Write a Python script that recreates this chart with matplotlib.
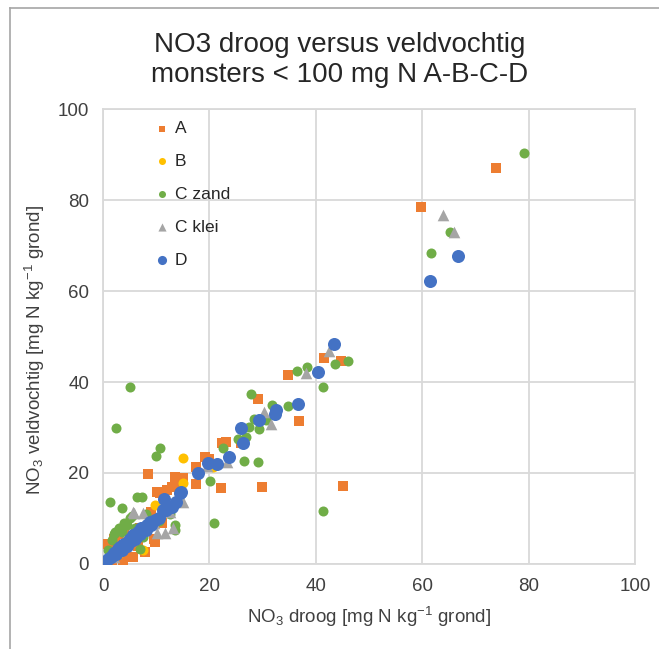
import matplotlib
matplotlib.use('Agg')
import matplotlib.pyplot as plt
from matplotlib.lines import Line2D

plt.rcParams['font.family'] = ['Liberation Sans', 'DejaVu Sans']
plt.rcParams['mathtext.default'] = 'regular'

# series A (orange squares)
a_x = [0.5, 1.6, 1.3, 0.7, 3.8, 5.7, 4.8, 7.9, 9.8, 9.5, 11.0, 10.1, 12.0, 13.8, 8.5,
       13.5, 15.0, 12.9, 10.7, 17.4, 19.2, 20.0, 17.4, 22.2, 29.8, 45.2, 22.4, 23.2,
       26.0, 29.1, 36.8, 34.7, 41.6, 44.7, 59.7, 73.8, 2.5, 3.0, 6.5, 7.0, 9.0, 11.5,
       4.0, 2.0, 2.3]
a_y = [0.3, 0.3, 2.4, 4.5, 0.8, 1.6, 1.6, 2.7, 4.9, 5.6, 8.9, 15.9, 16.3, 17.0, 19.8,
       19.2, 18.8, 17.0, 15.5, 21.4, 23.6, 23.1, 17.6, 16.6, 16.9, 17.2, 26.5, 26.9,
       26.7, 36.3, 31.5, 41.5, 45.3, 44.7, 78.5, 87.1, 3.5, 1.5, 4.0, 8.0, 11.5, 14.5,
       6.5, 5.5, 6.0]

# series B (yellow dots)
b_x = [15.1, 15.1, 9.8, 20.7, 7.5, 3.0]
b_y = [23.2, 17.9, 13.0, 21.4, 3.0, 2.5]

# series C zand (green dots)
cz_x = [79.2, 65.3, 61.7, 46.0, 43.6, 38.4, 36.5, 41.4, 27.9, 34.7, 31.7, 28.4, 30.7,
        29.4, 27.4, 26.9, 25.4, 22.5, 26.5, 29.1, 20.2, 41.3, 20.9, 5.0, 2.5, 10.8,
        10.0, 1.3, 3.5, 6.3, 7.3, 13.5, 13.5, 6.9, 2.3, 1.7, 2.0, 3.0, 4.0, 5.0, 3.5,
        4.5, 6.0, 5.5, 8.0, 1.0, 4.0, 7.5, 12.5, 10.5]
cz_y = [90.4, 73.0, 68.4, 44.6, 44.0, 43.4, 42.5, 38.8, 37.4, 34.7, 35.0, 31.9, 31.6,
        29.6, 30.2, 28.0, 27.4, 25.6, 22.7, 22.5, 18.2, 11.7, 8.9, 38.8, 29.8, 25.4,
        23.7, 13.7, 12.2, 14.8, 14.8, 8.6, 7.5, 3.4, 7.1, 5.3, 6.5, 8.0, 9.0, 10.0, 7.0,
        8.5, 8.0, 10.5, 11.0, 3.0, 4.5, 6.0, 11.0, 9.5]

# series C klei (grey triangles)
ck_x = [64.0, 66.0, 42.5, 38.1, 30.2, 31.5, 23.3, 15.1, 5.9, 5.7, 7.6, 10.1, 11.6,
        13.2, 12.5, 9.5, 4.0, 7.0, 2.0, 19.5]
ck_y = [76.8, 73.0, 46.9, 42.0, 33.4, 30.8, 22.5, 13.7, 11.3, 11.5, 11.3, 6.7, 6.7,
        7.8, 11.5, 9.0, 5.0, 7.5, 1.5, 21.5]

# series D (blue dots)
d_x = [66.7, 61.4, 43.4, 40.4, 36.6, 32.5, 32.4, 29.3, 25.9, 26.4, 23.7, 21.5, 19.8,
       17.9, 14.6, 13.8, 11.5, 11.8, 12.9, 14.5, 0.4, 1.0, 1.5, 2.0, 2.5, 3.2, 3.5,
       4.0, 4.5, 5.0, 5.7, 6.0, 6.5, 7.0, 7.5, 8.0, 8.8, 9.8, 9.0, 2.8, 4.8, 6.2, 1.8,
       3.8, 5.3, 7.2, 8.3, 10.5, 11.3]
d_y = [67.8, 62.3, 48.3, 42.1, 35.2, 33.8, 33.0, 31.7, 29.8, 26.7, 23.6, 22.0, 22.1,
       20.1, 15.9, 13.7, 14.2, 11.9, 12.6, 15.5, 0.5, 1.2, 1.5, 2.5, 2.2, 3.8, 3.0,
       4.5, 4.0, 5.5, 6.4, 5.5, 7.0, 6.5, 8.0, 7.5, 9.3, 9.7, 8.5, 3.2, 5.0, 6.0, 2.0,
       4.2, 5.0, 7.8, 8.5, 10.0, 11.9]

ticks = [0, 20, 40, 60, 80, 100]

fig = plt.figure(figsize=(6.59, 6.49), dpi=100)
ax = fig.add_axes([0.1563, 0.131, 0.8073, 0.701])

ax.scatter(a_x, a_y, marker='s', s=50, color='#ED7D31', label='A', zorder=3, linewidths=0)
ax.scatter(b_x, b_y, marker='o', s=52, color='#FFC000', label='B', zorder=3, linewidths=0)
ax.scatter(cz_x, cz_y, marker='o', s=52, color='#70AD47', label='C zand', zorder=3, linewidths=0)
ax.scatter(ck_x, ck_y, marker='^', s=70, color='#A5A5A5', label='C klei', zorder=3, linewidths=0)
ax.scatter(d_x, d_y, marker='o', s=88, color='#4472C4', label='D', zorder=3, linewidths=0)

ax.set_xlim(0, 100)
ax.set_ylim(0, 100)
ax.set_xticks(ticks)
ax.set_yticks(ticks)
ax.grid(True, color='#D9D9D9', linewidth=1.3)
ax.set_axisbelow(True)
for sp in ax.spines.values():
    sp.set_color('#D9D9D9')
    sp.set_linewidth(1.3)
ax.tick_params(length=0, labelsize=13.5, colors='#404040', pad=10)

ax.set_xlabel('NO$_3$ droog [mg N kg$^{-1}$ grond]', fontsize=13.5, color='#404040', labelpad=7)
ax.set_ylabel('NO$_3$ veldvochtig [mg N kg$^{-1}$ grond]', fontsize=13.5, color='#404040')
ax.yaxis.set_label_coords(-0.105, 0.47)

fig.text(0.516, 0.907, 'NO3 droog versus veldvochtig\nmonsters < 100 mg N A-B-C-D',
         ha='center', va='center', fontsize=20, color='#262626', linespacing=1.2)

leg = ax.legend(loc='upper left', bbox_to_anchor=(0.07, 1.008), frameon=False,
                fontsize=12.5, labelspacing=1.02, handlelength=0.7, handletextpad=0.4,
                markerscale=0.7)
for t in leg.get_texts():
    t.set_color('#262626')

# outer chart border (left and top only visible)
fig.add_artist(Line2D([0.015, 0.015], [0.0, 0.988], transform=fig.transFigure,
                      color='#A6A6A6', linewidth=1.2))
fig.add_artist(Line2D([0.015, 1.0], [0.988, 0.988], transform=fig.transFigure,
                      color='#A6A6A6', linewidth=1.2))

fig.savefig('out.png', dpi=100)
plt.close('all')
